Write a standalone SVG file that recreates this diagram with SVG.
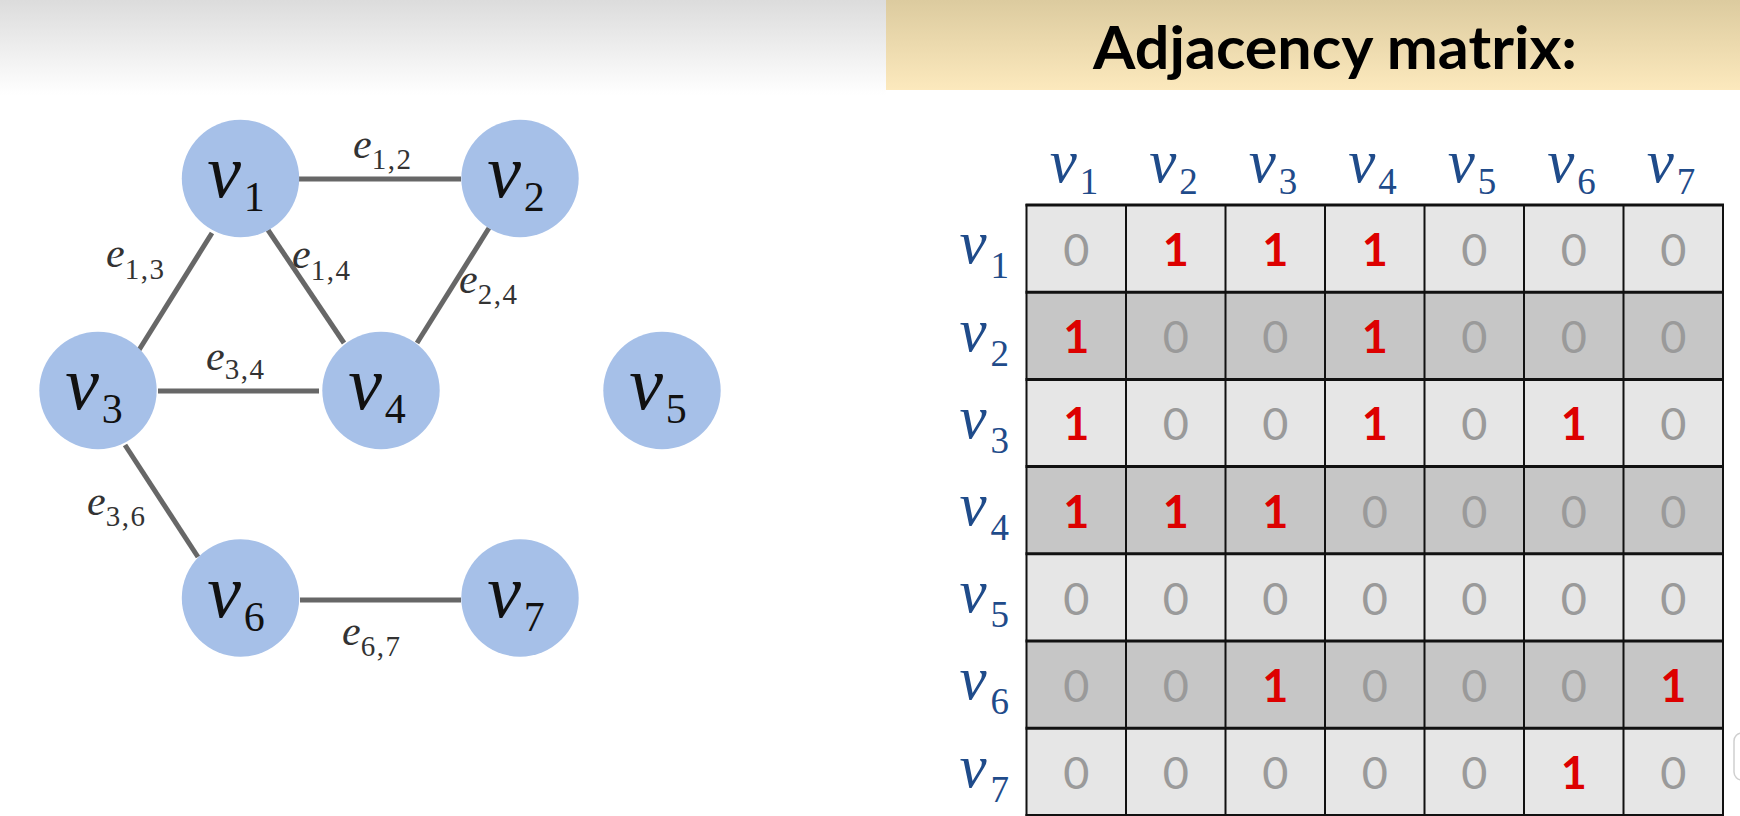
<svg xmlns="http://www.w3.org/2000/svg" width="1740" height="816" viewBox="0 0 1740 816">
<defs>
<linearGradient id="gTop" x1="0" y1="0" x2="0" y2="1">
<stop offset="0" stop-color="#dcdcdc"/>
<stop offset="1" stop-color="#ffffff"/>
</linearGradient>
<linearGradient id="gBand" x1="0" y1="0" x2="0" y2="1">
<stop offset="0" stop-color="#dccb9f"/>
<stop offset="1" stop-color="#fce9bd"/>
</linearGradient>
<style>
.node{fill:#a6c0e8;}
.nl{font-family:"Liberation Serif",serif;font-style:italic;font-size:76px;fill:#111;}
.ns{font-style:normal;font-size:42px;}
.edge{stroke:#676767;stroke-width:5;stroke-linecap:butt;}
.el{font-family:"Liberation Serif",serif;font-style:italic;font-size:42px;fill:#333;}
.es{font-style:normal;font-size:29px;letter-spacing:1.5px;}
.hl{font-family:"Liberation Serif",serif;font-style:italic;font-size:61px;fill:#1f4b8a;}
.hs{font-style:normal;font-size:37px;}
.light{fill:#e6e6e6;}
.dark{fill:#c6c6c6;}
.hline{stroke:#111;stroke-width:3;}
.vline{stroke:#111;stroke-width:2;}
.z{font-family:Lato,"Liberation Sans",sans-serif;font-size:45px;fill:#9a9a9a;text-anchor:middle;}
.o{font-family:Lato,"Liberation Sans",sans-serif;font-size:45px;font-weight:bold;fill:#dd0000;text-anchor:middle;}
.title{font-family:Lato,"Liberation Sans",sans-serif;font-weight:bold;font-size:60px;fill:#000;}
</style>
</defs>
<rect x="0" y="0" width="1740" height="816" fill="#ffffff"/>
<rect x="0" y="0" width="886" height="95" fill="url(#gTop)"/>
<g id="header">
<rect x="886" y="0" width="854" height="90" fill="url(#gBand)"/>
<text class="title" x="1093" y="69" textLength="484" lengthAdjust="spacingAndGlyphs">Adjacency matrix:</text>
</g>

<g id="connectors">
<line class="edge" x1="299" y1="179" x2="461" y2="179"/>
<line class="edge" x1="212" y1="233" x2="139" y2="350"/>
<line class="edge" x1="268" y1="230" x2="344" y2="343"/>
<line class="edge" x1="489" y1="228" x2="417" y2="343"/>
<line class="edge" x1="158" y1="391" x2="319" y2="391"/>
<line class="edge" x1="125" y1="445" x2="198" y2="557"/>
<line class="edge" x1="300" y1="600" x2="461" y2="600"/>
<text class="el" x="353" y="158">e<tspan class="es" dy="11">1,2</tspan></text>
<text class="el" x="106" y="267">e<tspan class="es" dy="12">1,3</tspan></text>
<text class="el" x="292" y="268">e<tspan class="es" dy="12">1,4</tspan></text>
<text class="el" x="459" y="293">e<tspan class="es" dy="11">2,4</tspan></text>
<text class="el" x="206" y="370">e<tspan class="es" dy="9">3,4</tspan></text>
<text class="el" x="87" y="515">e<tspan class="es" dy="11">3,6</tspan></text>
<text class="el" x="342" y="645">e<tspan class="es" dy="11">6,7</tspan></text>
</g>

<g id="v1"><circle class="node" cx="240.5" cy="178.5" r="58.7"/><text class="nl" x="236" y="197" text-anchor="middle">v<tspan class="ns" dx="3" dy="14">1</tspan></text></g>
<g id="v2"><circle class="node" cx="520" cy="178.5" r="58.7"/><text class="nl" x="516" y="197" text-anchor="middle">v<tspan class="ns" dx="3" dy="14">2</tspan></text></g>
<g id="v3"><circle class="node" cx="98" cy="390.5" r="58.7"/><text class="nl" x="94" y="409" text-anchor="middle">v<tspan class="ns" dx="3" dy="14">3</tspan></text></g>
<g id="v4"><circle class="node" cx="381" cy="390.5" r="58.7"/><text class="nl" x="377" y="409" text-anchor="middle">v<tspan class="ns" dx="3" dy="14">4</tspan></text></g>
<g id="v5"><circle class="node" cx="662" cy="390.5" r="58.7"/><text class="nl" x="658" y="409" text-anchor="middle">v<tspan class="ns" dx="3" dy="14">5</tspan></text></g>
<g id="v6"><circle class="node" cx="240.5" cy="598" r="58.7"/><text class="nl" x="236" y="617" text-anchor="middle">v<tspan class="ns" dx="3" dy="14">6</tspan></text></g>
<g id="v7"><circle class="node" cx="520" cy="598" r="58.7"/><text class="nl" x="516" y="617" text-anchor="middle">v<tspan class="ns" dx="3" dy="14">7</tspan></text></g>

<g id="matrix">
<g id="rows">
<rect class="light" x="1026.5" y="205" width="696.5" height="87.2"/>
<rect class="dark" x="1026.5" y="292.2" width="696.5" height="87.2"/>
<rect class="light" x="1026.5" y="379.4" width="696.5" height="87.2"/>
<rect class="dark" x="1026.5" y="466.6" width="696.5" height="87.2"/>
<rect class="light" x="1026.5" y="553.8" width="696.5" height="87.2"/>
<rect class="dark" x="1026.5" y="641" width="696.5" height="87.2"/>
<rect class="light" x="1026.5" y="728.2" width="696.5" height="87.8"/>
</g>
<g id="grid">
<line class="vline" x1="1026.5" y1="204" x2="1026.5" y2="816"/>
<line class="vline" x1="1126" y1="204" x2="1126" y2="816"/>
<line class="vline" x1="1225.5" y1="204" x2="1225.5" y2="816"/>
<line class="vline" x1="1325" y1="204" x2="1325" y2="816"/>
<line class="vline" x1="1424.5" y1="204" x2="1424.5" y2="816"/>
<line class="vline" x1="1524" y1="204" x2="1524" y2="816"/>
<line class="vline" x1="1623.5" y1="204" x2="1623.5" y2="816"/>
<line class="vline" x1="1723" y1="204" x2="1723" y2="816"/>
<line class="hline" x1="1025.5" y1="205" x2="1724" y2="205"/>
<line class="hline" x1="1025.5" y1="292.2" x2="1724" y2="292.2"/>
<line class="hline" x1="1025.5" y1="379.4" x2="1724" y2="379.4"/>
<line class="hline" x1="1025.5" y1="466.6" x2="1724" y2="466.6"/>
<line class="hline" x1="1025.5" y1="553.8" x2="1724" y2="553.8"/>
<line class="hline" x1="1025.5" y1="641" x2="1724" y2="641"/>
<line class="hline" x1="1025.5" y1="728.2" x2="1724" y2="728.2"/>
<line class="hline" x1="1025.5" y1="815.4" x2="1724" y2="815.4"/>
</g>
<g id="colLabels" class="hl" text-anchor="middle">
<text x="1074" y="182">v<tspan class="hs" dx="3" dy="12">1</tspan></text>
<text x="1173.5" y="182">v<tspan class="hs" dx="3" dy="12">2</tspan></text>
<text x="1273" y="182">v<tspan class="hs" dx="3" dy="12">3</tspan></text>
<text x="1372.5" y="182">v<tspan class="hs" dx="3" dy="12">4</tspan></text>
<text x="1472" y="182">v<tspan class="hs" dx="3" dy="12">5</tspan></text>
<text x="1571.5" y="182">v<tspan class="hs" dx="3" dy="12">6</tspan></text>
<text x="1671" y="182">v<tspan class="hs" dx="3" dy="12">7</tspan></text>
</g>
<g id="rowLabels" class="hl" text-anchor="end">
<text x="1009" y="263.3">v<tspan class="hs" dx="4" dy="15">1</tspan></text>
<text x="1009" y="350.5">v<tspan class="hs" dx="4" dy="15">2</tspan></text>
<text x="1009" y="437.7">v<tspan class="hs" dx="4" dy="15">3</tspan></text>
<text x="1009" y="524.9">v<tspan class="hs" dx="4" dy="15">4</tspan></text>
<text x="1009" y="612.1">v<tspan class="hs" dx="4" dy="15">5</tspan></text>
<text x="1009" y="699.3">v<tspan class="hs" dx="4" dy="15">6</tspan></text>
<text x="1009" y="786.5">v<tspan class="hs" dx="4" dy="15">7</tspan></text>
</g>
<g id="cells">
<text class="z" x="1076.25" y="266">0</text><text class="o" x="1175.75" y="266">1</text><text class="o" x="1275.25" y="266">1</text><text class="o" x="1374.75" y="266">1</text><text class="z" x="1474.25" y="266">0</text><text class="z" x="1573.75" y="266">0</text><text class="z" x="1673.25" y="266">0</text>
<text class="o" x="1076.25" y="353.2">1</text><text class="z" x="1175.75" y="353.2">0</text><text class="z" x="1275.25" y="353.2">0</text><text class="o" x="1374.75" y="353.2">1</text><text class="z" x="1474.25" y="353.2">0</text><text class="z" x="1573.75" y="353.2">0</text><text class="z" x="1673.25" y="353.2">0</text>
<text class="o" x="1076.25" y="440.4">1</text><text class="z" x="1175.75" y="440.4">0</text><text class="z" x="1275.25" y="440.4">0</text><text class="o" x="1374.75" y="440.4">1</text><text class="z" x="1474.25" y="440.4">0</text><text class="o" x="1573.75" y="440.4">1</text><text class="z" x="1673.25" y="440.4">0</text>
<text class="o" x="1076.25" y="527.6">1</text><text class="o" x="1175.75" y="527.6">1</text><text class="o" x="1275.25" y="527.6">1</text><text class="z" x="1374.75" y="527.6">0</text><text class="z" x="1474.25" y="527.6">0</text><text class="z" x="1573.75" y="527.6">0</text><text class="z" x="1673.25" y="527.6">0</text>
<text class="z" x="1076.25" y="614.8">0</text><text class="z" x="1175.75" y="614.8">0</text><text class="z" x="1275.25" y="614.8">0</text><text class="z" x="1374.75" y="614.8">0</text><text class="z" x="1474.25" y="614.8">0</text><text class="z" x="1573.75" y="614.8">0</text><text class="z" x="1673.25" y="614.8">0</text>
<text class="z" x="1076.25" y="702">0</text><text class="z" x="1175.75" y="702">0</text><text class="o" x="1275.25" y="702">1</text><text class="z" x="1374.75" y="702">0</text><text class="z" x="1474.25" y="702">0</text><text class="z" x="1573.75" y="702">0</text><text class="o" x="1673.25" y="702">1</text>
<text class="z" x="1076.25" y="789.2">0</text><text class="z" x="1175.75" y="789.2">0</text><text class="z" x="1275.25" y="789.2">0</text><text class="z" x="1374.75" y="789.2">0</text><text class="z" x="1474.25" y="789.2">0</text><text class="o" x="1573.75" y="789.2">1</text><text class="z" x="1673.25" y="789.2">0</text>
</g>
</g>
<rect x="1734" y="733" width="24" height="47" rx="8" fill="#ffffff" stroke="#cfcfcf" stroke-width="1.5"/>
</svg>
